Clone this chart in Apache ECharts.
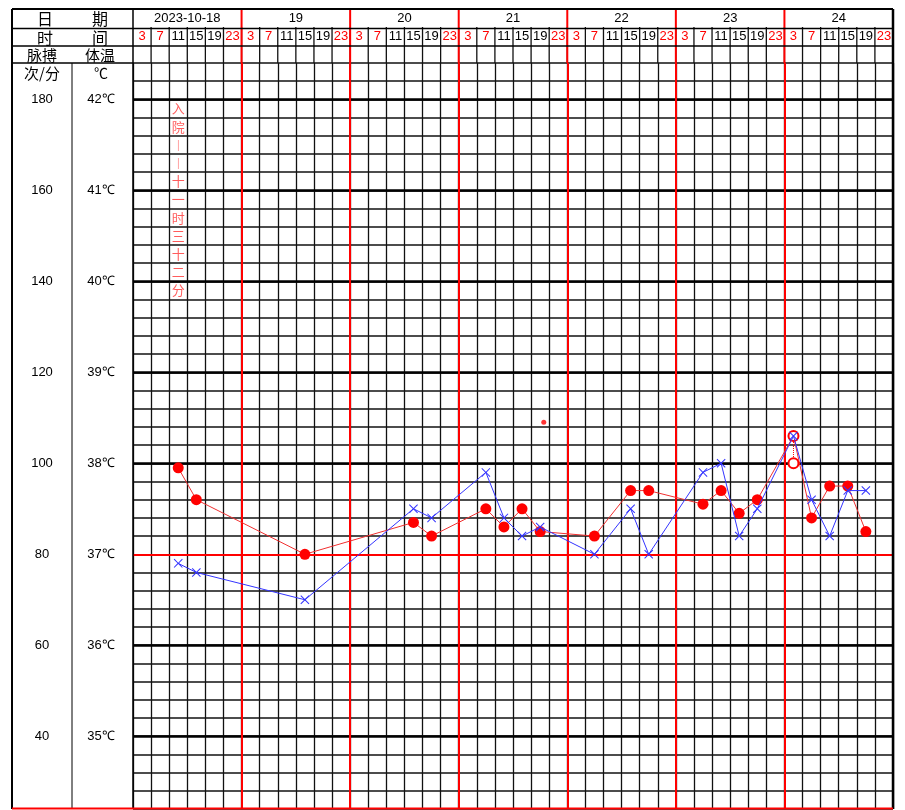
<!DOCTYPE html>
<html><head><meta charset="utf-8">
<script src="https://cdn.jsdelivr.net/npm/echarts/dist/echarts.min.js"></script>
<style>html,body{margin:0;padding:0;background:#fff}#c{width:905px;height:810px}</style>
</head><body><div id="c"></div>
<script>
// ---- data ----
const days = ['2023-10-18','19','20','21','22','23','24'];
const hours = ['3','7','11','15','19','23'];
// slot = dayIndex*6 + hourIndex
const tempSlots  = [2,3,9,15,16,19,20,21,22,25,27,28,31,32,33,34,36,37,38,39,40];
const tempValues = [37.95,37.6,37.0,37.35,37.2,37.5,37.3,37.5,37.25,37.2,37.7,37.7,37.55,37.7,37.45,37.6,38.3,37.4,37.75,37.75,37.25];
const pulseSlots  = [2,3,9,15,16,19,20,21,22,25,27,28,31,32,33,34,36,37,38,39,40];
const pulseValues = [78,76,70,90,88,98,88,84,86,80,90,80,98,100,84,90,106,92,84,94,94];
const overlapSlots = [36];          // temperature and pulse coincide (hollow circle)
const coolingSlot = 36, coolingTemp = 38.0;
const strayMark = [22.7, 38.45];
const admissionSlot = 2;
const admissionText = ['入','院','︱','︱','十','一','时','三','十','二','分'];
const tempLabels  = [35,36,37,38,39,40,41,42];
const pulseLabels = [40,60,80,100,120,140,160,180];
const redHours = ['3','7','23'];

// ---- layout ----
const L = 12, D = 72, G = 133, R = 893, TOP = 9, H1 = 28.5, H2 = 46, GT = 63, B = 809;
const RED = '#ff0000';
const CJK = '"Noto Sans CJK SC", sans-serif';
const NUM = '"Liberation Sans", Arial, sans-serif';

const chart = echarts.init(document.getElementById('c'), null, {renderer:'canvas'});

function hline(x1,x2,y,w,c){return {type:'line',silent:true,z:50,shape:{x1:x1,y1:y,x2:x2,y2:y},style:{stroke:c||'#000',lineWidth:w}};}
function vline(x,y1,y2,w,c){return {type:'line',silent:true,z:50,shape:{x1:x,y1:y1,x2:x,y2:y2},style:{stroke:c||'#000',lineWidth:w}};}
function txt(s,x,y,size,font,color){return {type:'text',silent:true,z:50,style:{text:s,x:x,y:y,align:'center',verticalAlign:'middle',font:size+'px '+(font||CJK),fill:color||'#000'}};}

const graphics = [
  hline(L,R,TOP,2), vline(L,TOP,B,2), vline(R,TOP,B,2.5),
  hline(L,R,H1,1.5), hline(L,R,H2,1.5), hline(L,G,GT,1.5),
  vline(D,GT,B,1), vline(G,TOP,B,1.5),
  hline(L,R,B-0.5,2,RED),
  txt('日',45,19,16), txt('期',100,19,16),
  txt('时',45,37.5,16), txt('间',100,37.5,16),
  txt('脉搏',42,55,15), txt('体温',100,55,15),
  txt('次/分',42,73,15), txt('℃',101,73,14)
];

const markData = [];
tempLabels.forEach(v=>{ if(v!==37) markData.push({yAxis:v, lineStyle:{color:'#000',width:2.5,type:'solid'}}); });
markData.push({yAxis:37, lineStyle:{color:RED,width:2,type:'solid'}});
for(let i=1;i<days.length;i++) markData.push({xAxis:i*6, lineStyle:{color:RED,width:2,type:'solid'}});

const xSym = 'path://M0,0.8L0.8,0L5,4.2L9.2,0L10,0.8L5.8,5L10,9.2L9.2,10L5,5.8L0.8,10L0,9.2L4.2,5Z';

const tempData = tempSlots.map((s,i)=>{
  const v=[s+0.5,tempValues[i]];
  return overlapSlots.includes(s)?{value:v,symbol:'emptyCircle',symbolSize:10,itemStyle:{borderWidth:1.5}}:v;
});

const option = {
  animation:false,
  graphic: graphics,
  grid:[
    {left:G,right:905-R,top:GT,bottom:810-B,containLabel:false},
    {left:G,right:905-R,top:TOP,height:GT-TOP,containLabel:false}
  ],
  xAxis:[
    {type:'value',gridIndex:0,min:0,max:42,interval:1,axisLabel:{show:false},axisTick:{show:false},axisLine:{show:false},
     splitLine:{show:true,lineStyle:{color:'#111',width:1.3}}},
    {type:'value',gridIndex:1,min:0,max:42,show:false}
  ],
  yAxis:[
    {type:'value',gridIndex:0,min:34.2,max:42.4,interval:0.2,position:'left',
     axisLine:{show:false},axisTick:{show:false},
     splitLine:{show:true,lineStyle:{color:'#111',width:1.5}},
     axisLabel:{interval:0,margin:G-101,align:'center',fontSize:13,fontFamily:NUM,color:'#000',
       formatter:v=>{const r=Math.round(v);return (Math.abs(v-r)<1e-6&&tempLabels.includes(r))?r+'℃':'';}}},
    {type:'value',gridIndex:0,min:24,max:188,interval:4,position:'left',
     axisLine:{show:false},axisTick:{show:false},splitLine:{show:false},
     axisLabel:{interval:0,margin:G-42,align:'center',fontSize:13,fontFamily:NUM,color:'#000',
       formatter:v=>{const r=Math.round(v);return (Math.abs(v-r)<1e-6&&pulseLabels.includes(r))?String(r):'';}}},
    {type:'value',gridIndex:1,min:0,max:3,inverse:true,show:false}
  ],
  series:[
    {type:'line',xAxisIndex:0,yAxisIndex:0,data:[],z:1,silent:true,
     markLine:{silent:true,symbol:['none','none'],label:{show:false},animation:false,data:markData}},
    {type:'custom',xAxisIndex:1,yAxisIndex:2,z:10,silent:true,
     data:days.map((d,i)=>[i*6,d]),
     renderItem:(p,api)=>{
       const i=p.dataIndex, c=i*6;
       const mid=api.coord([c+3,0.5]);
       const ch=[{type:'text',style:{text:days[i],x:mid[0],y:mid[1],align:'center',verticalAlign:'middle',font:'13px '+NUM,fill:'#000'}}];
       if(i>0){const a=api.coord([c,0]),b=api.coord([c,3]);ch.push({type:'line',shape:{x1:a[0],y1:a[1]-1,x2:a[0],y2:b[1]},style:{stroke:RED,lineWidth:2}});}
       return {type:'group',children:ch};
     }},
    {type:'custom',xAxisIndex:1,yAxisIndex:2,z:9,silent:true,
     data:Array.from({length:days.length*hours.length},(_,c)=>[c,hours[c%6]]),
     renderItem:(p,api)=>{
       const c=p.dataIndex, lab=hours[c%6];
       const mid=api.coord([c+0.5,1.5]);
       const a=api.coord([c,1]), b=api.coord([c,3]);
       const ch=[{type:'text',style:{text:lab,x:mid[0],y:mid[1]+0.5,align:'center',verticalAlign:'middle',font:'13px '+NUM,fill:redHours.includes(lab)?RED:'#000'}}];
       if(c>0) ch.push({type:'line',shape:{x1:a[0],y1:a[1],x2:a[0],y2:b[1]},style:{stroke:'#111',lineWidth:1.3}});
       return {type:'group',children:ch};
     }},
    {name:'体温',type:'line',xAxisIndex:0,yAxisIndex:0,z:5,data:tempData,
     symbol:'circle',symbolSize:11,itemStyle:{color:RED},lineStyle:{color:'#f03030',width:1}},
    {name:'降温',type:'line',xAxisIndex:0,yAxisIndex:0,z:5,
     data:[{value:[coolingSlot+0.5,tempValues[tempSlots.indexOf(coolingSlot)]],symbol:'none'},{value:[coolingSlot+0.5,coolingTemp],symbol:'emptyCircle',symbolSize:10}],
     itemStyle:{color:RED,borderWidth:1.2},lineStyle:{color:RED,width:1,type:'dotted'}},
    {name:'脉搏',type:'line',xAxisIndex:0,yAxisIndex:1,z:6,data:pulseSlots.map((s,i)=>[s+0.5,pulseValues[i]]),
     symbol:xSym,symbolSize:9,itemStyle:{color:'#3333ff'},lineStyle:{color:'#3333ff',width:1}},
    {type:'scatter',xAxisIndex:0,yAxisIndex:0,z:5,data:[strayMark],symbolSize:5,itemStyle:{color:RED}},
    {type:'scatter',xAxisIndex:0,yAxisIndex:0,z:7,silent:true,symbolSize:1,itemStyle:{color:'transparent'},
     data:admissionText.map((t,k)=>[admissionSlot+0.5,41.9-0.2*k,t]),
     label:{show:true,position:'inside',formatter:p=>p.data[2],color:'#ff3333',fontSize:13,fontFamily:CJK,backgroundColor:'#fff',padding:[0,1]}}
  ]
};
chart.setOption(option);
</script></body></html>
